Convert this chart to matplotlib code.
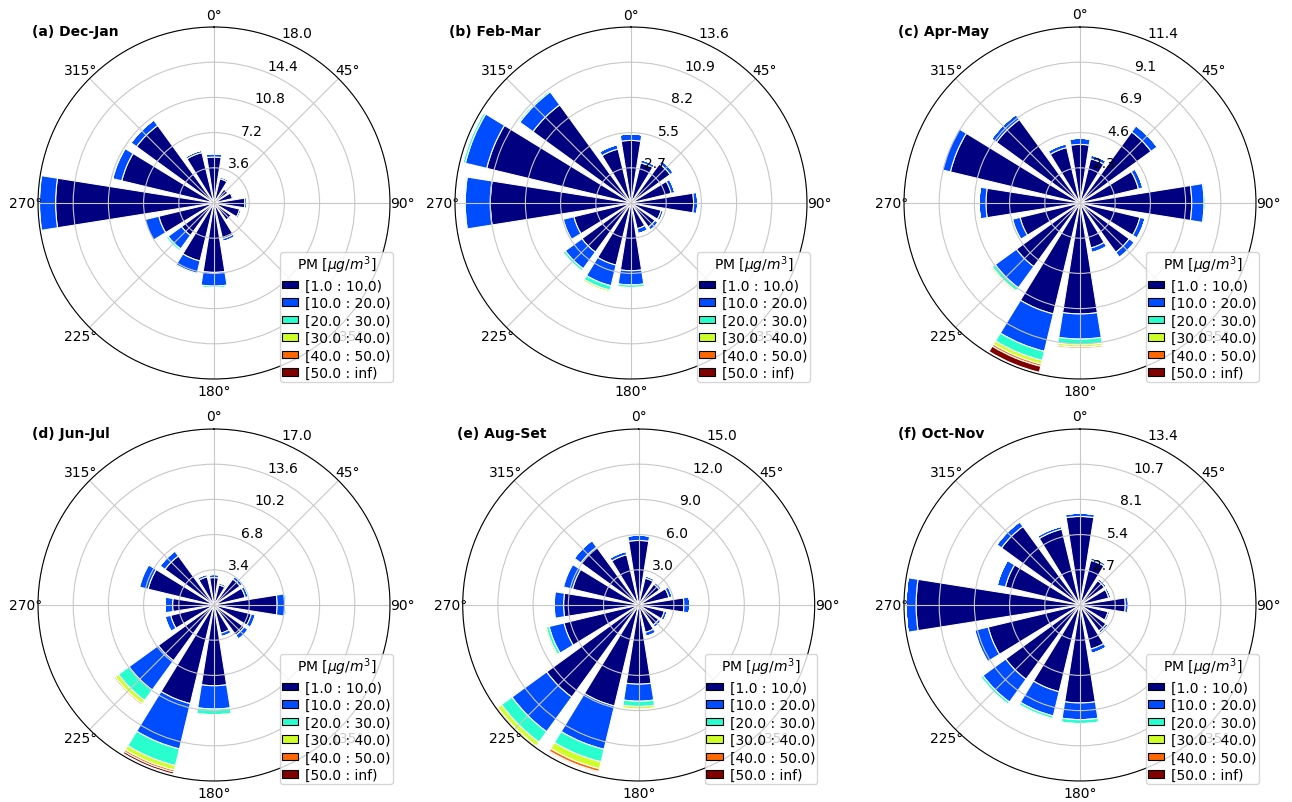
import numpy as np
import matplotlib
matplotlib.use("Agg")
import matplotlib.pyplot as plt
from matplotlib.patches import Rectangle

# 16 directions, clockwise from N; bins of PM concentration
directions = np.arange(16) * 22.5
bin_labels = ["[1.0 : 10.0)", "[10.0 : 20.0)", "[20.0 : 30.0)",
              "[30.0 : 40.0)", "[40.0 : 50.0)", "[50.0 : inf)"]
titles = ["(a) Dec-Jan", "(b) Feb-Mar", "(c) Apr-May",
          "(d) Jun-Jul", "(e) Aug-Set", "(f) Oct-Nov"]
rmax = [18.0, 13.64, 11.42, 17.0, 15.0, 13.42]
rlabels = [["3.6", "7.2", "10.8", "14.4", "18.0"],
           ["2.7", "5.5", "8.2", "10.9", "13.6"],
           ["2.3", "4.6", "6.9", "9.1", "11.4"],
           ["3.4", "6.8", "10.2", "13.6", "17.0"],
           ["3.0", "6.0", "9.0", "12.0", "15.0"],
           ["2.7", "5.4", "8.1", "10.7", "13.4"]]

# frequency (%) per direction (rows) and bin (cols)
dec_jan = [[4.7, 0.35, 0, 0, 0, 0], [2.55, 0.2, 0, 0, 0, 0], [1.75, 0.12, 0, 0, 0, 0],
           [1.95, 0.15, 0, 0, 0, 0], [3.15, 0.25, 0, 0, 0, 0], [2.7, 0.2, 0, 0, 0, 0],
           [2.15, 0.12, 0, 0, 0, 0], [3.75, 0.3, 0, 0, 0, 0], [7.1, 1.4, 0.2, 0, 0, 0],
           [6.1, 1.3, 0.15, 0, 0, 0], [4.1, 1.7, 0.25, 0, 0, 0], [5.8, 1.5, 0.1, 0, 0, 0],
           [16.2, 1.65, 0.1, 0, 0, 0], [9.7, 0.95, 0.05, 0, 0, 0], [9.8, 0.7, 0, 0, 0, 0],
           [5.3, 0.25, 0, 0, 0, 0]]
feb_mar = [[4.85, 0.5, 0, 0, 0, 0], [3.2, 0.25, 0, 0, 0, 0], [3.75, 0.3, 0, 0, 0, 0],
           [3.2, 0.3, 0, 0, 0, 0], [4.85, 0.32, 0, 0, 0, 0], [2.4, 0.2, 0, 0, 0, 0],
           [2.3, 0.3, 0, 0, 0, 0], [2.05, 0.4, 0, 0, 0, 0], [5.25, 1.1, 0.2, 0.1, 0.03, 0],
           [4.95, 1.65, 0.35, 0.15, 0.07, 0.03], [4.7, 1.6, 0.2, 0.05, 0, 0],
           [4.55, 0.85, 0.1, 0, 0, 0], [10.9, 1.95, 0.1, 0.05, 0, 0], [11.5, 1.7, 0.2, 0, 0, 0],
           [9.4, 1.25, 0.15, 0, 0, 0], [4.3, 0.35, 0, 0, 0, 0]]
apr_may = [[3.8, 0.4, 0, 0, 0, 0], [2.95, 0.25, 0, 0, 0, 0], [5.7, 0.5, 0, 0, 0, 0],
           [3.9, 0.3, 0, 0, 0, 0], [7.25, 0.8, 0.1, 0, 0, 0], [4.0, 0.35, 0, 0, 0, 0],
           [3.95, 0.4, 0.05, 0, 0, 0], [3.0, 0.3, 0.03, 0, 0, 0],
           [7.2, 1.63, 0.37, 0.15, 0.1, 0.05], [7.4, 2.5, 0.6, 0.25, 0.15, 0.4],
           [5.1, 1.7, 0.25, 0.1, 0.08, 0.05], [4.0, 0.5, 0.05, 0, 0, 0],
           [6.1, 0.45, 0, 0, 0, 0], [8.65, 0.55, 0.05, 0, 0, 0], [6.7, 0.4, 0, 0, 0, 0],
           [3.7, 0.25, 0, 0, 0, 0]]
jun_jul = [[2.65, 0.3, 0, 0, 0, 0], [2.0, 0.2, 0, 0, 0, 0], [3.1, 0.3, 0, 0, 0, 0],
           [3.1, 0.3, 0, 0, 0, 0], [6.1, 0.8, 0.15, 0, 0, 0], [3.7, 0.4, 0.05, 0, 0, 0],
           [3.6, 0.45, 0.05, 0, 0, 0], [2.8, 0.35, 0, 0, 0, 0], [7.8, 2.25, 0.55, 0.15, 0, 0],
           [9.8, 4.5, 1.65, 0.45, 0.2, 0.2], [6.65, 3.5, 1.25, 0.4, 0.15, 0.05],
           [4.3, 0.55, 0.05, 0.02, 0, 0], [4.0, 0.75, 0, 0, 0, 0], [6.55, 0.85, 0.08, 0, 0, 0],
           [5.85, 0.6, 0, 0, 0, 0], [2.8, 0.25, 0, 0, 0, 0]]
aug_set = [[5.5, 0.45, 0, 0, 0, 0], [2.35, 0.2, 0, 0, 0, 0], [2.2, 0.2, 0, 0, 0, 0],
           [2.65, 0.3, 0, 0, 0, 0], [3.85, 0.5, 0, 0, 0, 0], [2.25, 0.25, 0, 0, 0, 0],
           [2.1, 0.25, 0, 0, 0, 0], [2.4, 0.35, 0, 0, 0, 0], [6.75, 1.45, 0.45, 0.22, 0.1, 0.03],
           [8.85, 3.8, 1.1, 0.6, 0.25, 0.1], [9.7, 3.65, 1.1, 0.4, 0.12, 0.03],
           [6.55, 1.3, 0.25, 0.15, 0, 0], [6.4, 0.8, 0.05, 0, 0, 0], [5.8, 0.8, 0.05, 0, 0, 0],
           [6.1, 0.7, 0, 0, 0, 0], [4.4, 0.3, 0, 0, 0, 0]]
oct_nov = [[6.75, 0.25, 0, 0, 0, 0], [3.5, 0.2, 0, 0, 0, 0], [2.3, 0.18, 0, 0, 0, 0],
           [2.25, 0.18, 0, 0, 0, 0], [3.45, 0.25, 0, 0, 0, 0], [2.2, 0.15, 0, 0, 0, 0],
           [2.45, 0.2, 0, 0, 0, 0], [3.45, 0.35, 0, 0, 0, 0], [7.47, 1.27, 0.3, 0.1, 0, 0],
           [6.8, 1.9, 0.2, 0.1, 0.05, 0], [7.0, 2.15, 0.2, 0.05, 0, 0],
           [7.2, 1.05, 0.1, 0, 0, 0], [12.5, 0.77, 0, 0, 0, 0], [5.85, 0.65, 0, 0, 0, 0],
           [7.4, 0.45, 0, 0, 0, 0], [5.95, 0.22, 0, 0, 0, 0]]
seasons = [dec_jan, feb_mar, apr_may, jun_jul, aug_set, oct_nov]

colors = [plt.cm.jet(v) for v in np.linspace(0, 1, 6)]

W, H = 1292, 803
fig = plt.figure(figsize=(W / 100, H / 100), dpi=100)
# axes centres in pixels, radius 176 px
centres = [(214, 204), (631, 204), (1080, 204), (214, 606), (638.7, 606), (1080, 606)]
R = 176

theta = np.deg2rad(directions)
width = np.deg2rad(22.5 * 0.8)

for k, (cx, cy) in enumerate(centres):
    ax = fig.add_axes([(cx - R) / W, (H - cy - R) / H, 2 * R / W, 2 * R / H],
                      projection="polar")
    ax.set_theta_zero_location("N")
    ax.set_theta_direction(-1)
    data = np.array(seasons[k])
    bottom = np.zeros(16)
    for j in range(6):
        ax.bar(theta, data[:, j], width=width, bottom=bottom, color=colors[j],
               edgecolor="white", linewidth=0.8, align="center")
        bottom += data[:, j]
    ax.set_ylim(0, rmax[k])
    radii = np.linspace(0, rmax[k], 6)[1:]
    ax.set_rgrids(radii, rlabels[k], angle=22.5, fontsize=10)
    ax.set_thetagrids(np.arange(0, 360, 45),
                      ["%d°" % a for a in range(0, 360, 45)], fontsize=10)
    ax.tick_params(axis="x", pad=-1.5)
    ax.grid(True, color="#c8c8c8", linewidth=0.8)
    ax.text(-0.017, 0.99, titles[k], transform=ax.transAxes, fontsize=10,
            fontweight="bold", ha="left", va="center")
    handles = [Rectangle((0, 0), 0.2, 0.2, facecolor=c, edgecolor="black", linewidth=0.8)
               for c in colors]
    leg = ax.legend(handles, bin_labels, title=r"PM [$\mu g/m^3$]", loc="lower right",
                    bbox_to_anchor=(1.0075, -0.0075), borderaxespad=0, fontsize=10,
                    title_fontsize=10, handlelength=1.2, handleheight=0.45,
                    handletextpad=0.5, labelspacing=0.25, borderpad=0.12)

fig.savefig("out.png", dpi=100)
